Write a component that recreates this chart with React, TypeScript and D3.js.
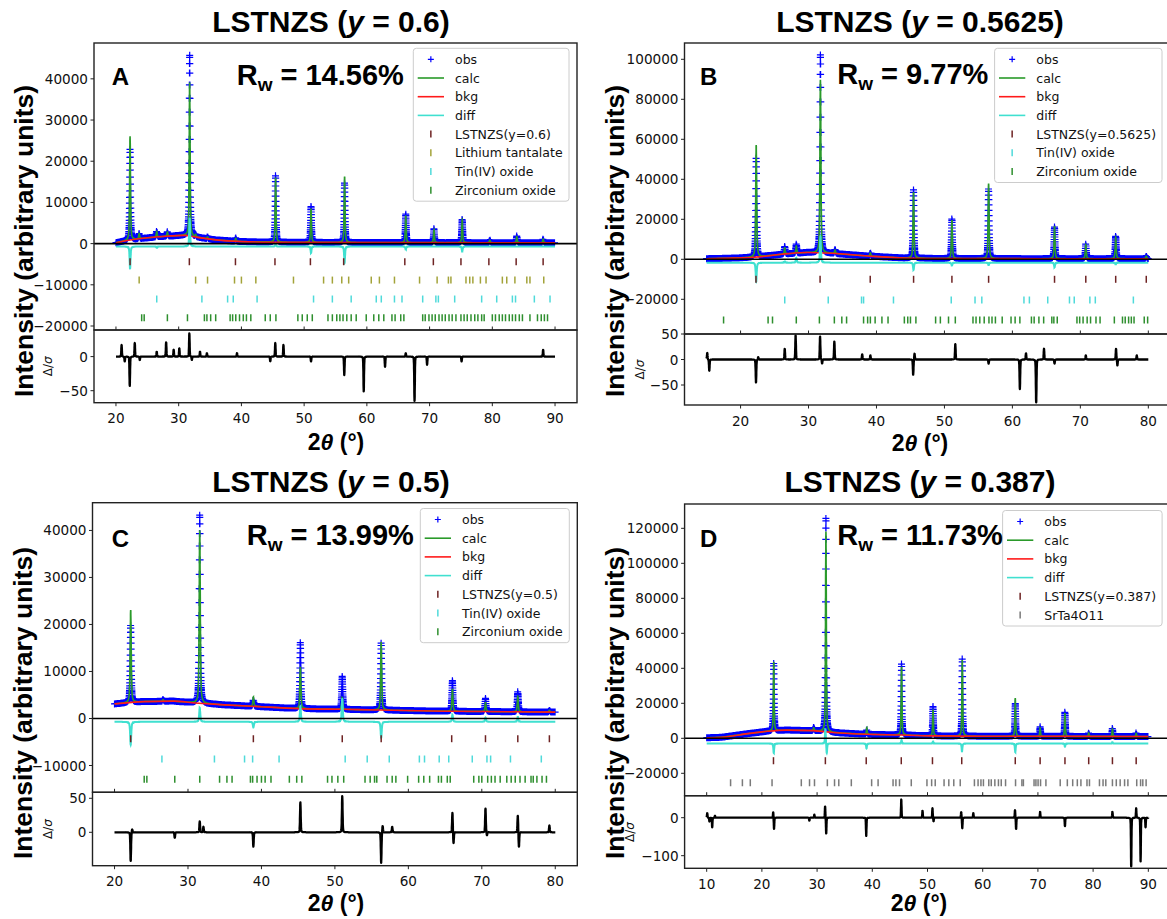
import React from 'react';
import * as d3 from 'd3';

type Pt = [number, number];
type Peak = [number, number, number];

// ======================= DATA =======================
// Panel A : LSTNZS (y = 0.6)
const rangeA: Pt = [20, 90];
const xTicksA = [20, 30, 40, 50, 60, 70, 80, 90];
const yTicksA = [40000, 30000, 20000, 10000, 0, -10000, -20000];
const rTicksA = [0, -50];
const bkgA: Pt[] = [[20, 200], [22, 800], [25, 1400], [28, 1800], [31, 2000], [33, 1500], [36, 900], [40, 500], [45, 350], [60, 250], [90, 200]];
// [2θ, obs height, calc height] above background
const peaksA: Peak[] = [[22.25, 22300, 25200], [23.7, 1300, 1300], [26.5, 1600, 1400], [28.2, 1100, 1000], [31.75, 43900, 37300], [32.7, 600, 500], [34.6, 500, 400], [39.1, 800, 700], [45.45, 16300, 15700], [51.1, 8800, 8200], [56.45, 14600, 16000], [66.2, 6900, 6600], [70.7, 3400, 3200], [75.2, 5900, 5600], [79.6, 700, 600], [83.9, 1700, 1500], [88.1, 1000, 900]];
const diffOffsetA = -700;
const diffA: Pt[] = [[22.25, -5500], [26.5, -300], [31.75, 7000], [45.45, 600], [51.1, -1600], [56.45, -4000], [66.2, -700], [75.2, -1200]];
const residA: Pt[] = [[20.9, 17], [21.4, -7], [22.2, -43], [23.0, 20], [23.8, -5], [26.5, 7], [28.0, 21], [29.2, 10], [30.1, 12], [31.7, 34], [32.1, -5], [33.4, 7], [34.5, 5], [39.3, 5], [44.6, -7], [45.4, 20], [46.7, 17], [51.1, -7], [56.4, -27], [59.5, -51], [62.9, -15], [66.2, 5], [67.6, -65], [69.6, -12], [75.1, -7], [88.1, 10]];
const phaseNamesA = ['LSTNZS(y=0.6)', 'Lithium tantalate', 'Tin(IV) oxide', 'Zirconium oxide'];
const phaseRowsA = [-4400, -8850, -13450, -18000];
const ticksA_LSTNZS = [22.25, 31.7, 39.05, 45.35, 51.0, 56.3, 66.05, 70.6, 75.0, 79.45, 83.8, 88.1];
const ticksA_LiTaO3 = [23.7, 32.7, 34.6, 38.9, 40.0, 42.3, 48.3, 53.1, 54.5, 56.0, 57.1, 60.7, 62.0, 64.4, 68.4, 71.2, 73.0, 73.4, 75.8, 76.4, 76.9, 78.1, 79.0, 81.6, 82.3, 83.6, 85.5, 86.0, 88.2];
const ticksA_SnO2 = [26.5, 33.7, 37.8, 38.7, 42.5, 51.5, 54.5, 57.5, 61.5, 62.3, 64.4, 65.6, 68.9, 71.0, 71.4, 74.0, 78.3, 80.7, 83.2, 83.7, 86.7, 89.2];
const ticksA_ZrO2 = [24.1, 24.5, 28.2, 31.4, 34.1, 34.5, 35.1, 35.9, 38.2, 38.6, 39.1, 39.7, 40.3, 40.8, 41.5, 43.8, 44.6, 45.5, 49.0, 49.7, 50.5, 51.3, 53.8, 54.5, 55.2, 55.7, 56.2, 56.8, 57.5, 58.3, 59.9, 61.1, 61.9, 62.7, 64.0, 64.5, 65.4, 65.9, 68.9, 69.3, 69.9, 70.4, 70.9, 71.5, 72.0, 72.5, 73.1, 73.6, 74.2, 75.0, 75.5, 76.0, 76.6, 77.2, 77.7, 78.3, 78.7, 80.0, 80.5, 81.1, 81.6, 82.1, 82.7, 83.2, 83.7, 84.3, 84.8, 86.0, 87.2, 87.8, 88.3, 88.8];

// Panel B : LSTNZS (y = 0.5625)
const rangeB: Pt = [15, 80];
const xTicksB = [20, 30, 40, 50, 60, 70, 80];
const yTicksB = [100000, 80000, 60000, 40000, 20000, 0, -20000];
const rTicksB = [50, 0, -50];
const bkgB: Pt[] = [[15, 300], [19, 600], [22, 1000], [26, 2500], [29.8, 3400], [33.4, 3000], [38.7, 1650], [44, 650], [50, 400], [65, 300], [80, 300]];
const peaksB: Peak[] = [[22.3, 50000, 56000], [26.5, 3800, 3200], [28.2, 4600, 3600], [31.75, 99000, 86500], [33.9, 2200, 1700], [39.1, 1800, 1700], [45.45, 34500, 33000], [51.1, 20000, 19200], [56.5, 35200, 37500], [66.2, 15800, 16300], [70.8, 7600, 7100], [75.2, 11700, 10700], [79.7, 1300, 1200]];
const diffOffsetB = -1700;
const diffB: Pt[] = [[22.3, -9500], [26.5, 600], [28.2, 2500], [31.75, 13000], [45.45, -3600], [51.1, -1400], [56.5, -1200], [66.2, -2300], [75.2, -800]];
const residB: Pt[] = [[15.1, 13], [15.4, -22], [22.27, -45], [22.6, 5], [26.5, 21], [28.1, 47], [31.7, 45], [32.0, -8], [33.8, 35], [37.9, 10], [39.1, 8], [45.4, -30], [45.6, 12], [51.6, 30], [56.5, -8], [61.1, -58], [62.0, 12], [63.5, -84], [64.65, 21], [66.2, -8], [70.8, 8], [75.25, 21], [75.45, -12], [78.3, 8]];
const phaseNamesB = ['LSTNZS(y=0.5625)', 'Tin(IV) oxide', 'Zirconium oxide'];
const phaseRowsB = [-10000, -20350, -30350];
const ticksB_LSTNZS = [22.27, 31.7, 39.08, 45.46, 51.1, 56.5, 66.2, 70.8, 75.2, 79.7];
const ticksB_SnO2 = [26.5, 32.9, 37.8, 38.1, 42.5, 51.0, 54.5, 55.5, 61.7, 62.5, 65.2, 68.4, 69.1, 71.4, 72.2, 77.8];
const ticksB_ZrO2 = [17.5, 24.05, 24.7, 28.2, 31.6, 33.8, 34.9, 35.6, 38.1, 38.7, 39.1, 39.8, 40.8, 41.7, 44.1, 44.6, 45.0, 45.8, 48.7, 49.4, 50.6, 51.6, 54.2, 54.65, 55.2, 55.85, 56.55, 57.0, 57.5, 58.5, 59.8, 60.4, 61.1, 62.8, 63.2, 63.9, 64.6, 65.8, 66.1, 66.6, 69.5, 69.9, 70.4, 71.0, 71.5, 72.3, 72.9, 75.0, 76.2, 76.6, 77.1, 77.5, 77.9, 79.4, 79.9];

// Panel C : LSTNZS (y = 0.5)
const rangeC: Pt = [20, 80];
const xTicksC = [20, 30, 40, 50, 60, 70, 80];
const yTicksC = [40000, 30000, 20000, 10000, 0, -10000];
const rTicksC = [50, 0];
const bkgC: Pt[] = [[20, 3100], [24, 3600], [28, 3700], [31, 3300], [35, 2900], [40, 2500], [45, 2100], [51, 1950], [56, 1800], [65, 1550], [80, 1350]];
const peaksC: Peak[] = [[22.2, 16600, 19700], [26.6, 400, 300], [31.6, 40000, 36800], [38.9, 1500, 2000], [45.3, 14200, 8900], [51.0, 7000, 2500], [56.3, 14400, 14500], [66.0, 6500, 4800], [70.5, 2800, 1900], [74.9, 4300, 3300], [79.2, 400, 350]];
const diffOffsetC = -700;
const diffC: Pt[] = [[22.2, -4900], [31.6, 3000], [38.9, -1200], [45.3, 3300], [51.0, 5000], [56.3, -3500], [66.0, 1500], [70.5, 900], [74.9, 1000]];
const residC: Pt[] = [[22.2, -42], [22.4, 5], [28.2, -8], [31.6, 16], [32.1, 8], [38.9, -21], [45.3, 44], [51.0, 53], [56.3, -45], [56.5, 10], [57.8, 8], [66.0, 29], [66.15, -17], [70.5, 35], [70.7, -5], [74.9, 25], [75.05, -22], [79.2, 10]];
const phaseNamesC = ['LSTNZS(y=0.5)', 'Tin(IV) oxide', 'Zirconium oxide'];
const phaseRowsC = [-4300, -8620, -12940];
const ticksC_LSTNZS = [22.2, 31.6, 38.9, 45.3, 51.0, 56.3, 65.9, 70.5, 74.9, 79.2];
const ticksC_SnO2 = [26.45, 33.6, 37.7, 38.8, 42.4, 51.4, 54.4, 57.4, 61.5, 62.2, 64.2, 65.5, 68.7, 70.7, 71.2, 73.9, 78.1];
const ticksC_ZrO2 = [24.04, 24.4, 28.2, 31.6, 34.3, 35.3, 36.0, 38.5, 38.8, 39.4, 40.0, 40.5, 41.3, 43.8, 44.8, 45.5, 49.0, 49.6, 50.4, 51.2, 54.1, 54.8, 55.4, 55.7, 57.1, 57.8, 58.3, 59.9, 61.4, 62.1, 62.9, 64.1, 64.5, 65.3, 65.7, 68.9, 69.6, 70.0, 70.8, 71.3, 71.8, 72.5, 73.4, 74.0, 74.55, 75.2, 75.9, 76.7, 77.0, 77.5, 78.2, 78.8];

// Panel D : LSTNZS (y = 0.387)
const rangeD: Pt = [10, 90];
const xTicksD = [10, 20, 30, 40, 50, 60, 70, 80, 90];
const yTicksD = [120000, 100000, 80000, 60000, 40000, 20000, 0, -20000];
const rTicksD = [0, -100];
const bkgD: Pt[] = [[10, 300], [12.7, 600], [17.8, 2800], [21, 4000], [24.5, 4700], [29.3, 4400], [32.9, 3300], [39, 2300], [45.3, 1900], [51, 1400], [60, 1200], [75, 1100], [90, 1000]];
const peaksD: Peak[] = [[22.15, 39000, 39500], [29.4, 2200, 1500], [31.6, 122000, 114500], [39.0, 2500, 3800], [45.3, 41000, 39000], [51.0, 16700, 15000], [56.3, 44500, 43500], [65.9, 18700, 21800], [70.4, 5500, 4800], [74.9, 14400, 13400], [79.2, 2200, 2000], [83.5, 4800, 4200], [87.8, 2200, 1800]];
const diffOffsetD = -3000;
const diffD: Pt[] = [[22.15, -5400], [31.5, 9000], [31.75, -6000], [38.95, -2800], [45.3, 2000], [51.0, 1200], [56.25, -4500], [65.9, -5000], [74.9, -1800], [83.5, 800]];
const residD: Pt[] = [[10.1, 12], [10.5, -10], [11.0, -25], [11.5, 5], [22.05, 15], [22.2, -30], [28.6, -8], [29.5, 8], [31.45, 30], [31.65, -42], [38.9, -48], [45.25, 48], [49.1, 18], [50.9, 25], [51.1, -10], [56.1, 15], [56.3, -28], [58.3, 12], [65.85, 20], [66.05, -30], [70.4, 15], [74.9, -22], [83.5, 15], [86.9, -128], [87.8, 25], [88.6, -115], [89.5, -25]];
const phaseNamesD = ['LSTNZS(y=0.387)', 'SrTa4O11'];
const phaseRowsD = [-12800, -25400];
const ticksD_LSTNZS = [22.1, 31.5, 38.9, 45.25, 50.9, 56.2, 65.9, 70.4, 74.9, 79.2, 83.5, 87.8];
const ticksD_SrTa4O11 = [14.33, 16.47, 17.9, 21.84, 27.14, 28.63, 29.53, 31.86, 33.16, 33.93, 36.2, 39.88, 41.05, 43.76, 44.28, 44.93, 47.06, 49.9, 50.75, 51.4, 53.0, 53.86, 54.76, 55.93, 58.5, 59.16, 59.68, 60.13, 61.1, 61.55, 62.2, 62.85, 63.36, 64.14, 65.95, 67.1, 67.37, 69.3, 69.64, 70.03, 70.48, 71.45, 74.04, 75.33, 76.3, 77.14, 77.79, 78.89, 79.34, 81.15, 81.8, 82.3, 83.5, 84.2, 84.9, 85.7, 86.3, 87.9, 88.6, 89.0, 89.6];

const yValues = ['0.6', '0.5625', '0.5', '0.387'];
const letters = ['A', 'B', 'C', 'D'];
const rwValues = ['14.56%', '9.77%', '13.99%', '11.73%'];

// ======================= STYLE / LAYOUT =======================
const SANS = "'DejaVu Sans', 'Noto Sans', sans-serif";
const BOLD = "'Liberation Sans', Arial, Helvetica, sans-serif";
const C_OBS = '#0000ff';
const C_CALC = '#2a9a2a';
const C_BKG = '#ff1a1a';
const C_DIFF = '#40e0d0';
const C_LST = '#6e2323';
const C_LI = '#a3a33a';
const C_SN = '#4fdada';
const C_ZR = '#2e8f2e';
const C_SR = '#7a7a7a';

interface Layout {
  left: number; right: number; top: number; mid: number; bottom: number;
  xDomain: Pt; yDomain: Pt; rDomain: Pt;
  legendLeft: number; legendTop: number; legendWidth: number;
  letterX: number; letterY: number; rwX: number; rwY: number;
  titleX: number; titleY: number; xlabelX: number; xlabelY: number;
  ylabelY: number; dsOffset: number;
}

interface PanelDef {
  id: string; range: Pt; xTicks: number[]; yTicks: number[]; rTicks: number[];
  bkg: Pt[]; peaks: Peak[]; diffOffset: number; diff: Pt[]; resid: Pt[];
  phases: { name: string; row: number; ticks: number[]; color: string }[];
  yValue: string; letter: string; rw: string; L: Layout;
}

const panels: PanelDef[] = [
  {
    id: 'A', range: rangeA, xTicks: xTicksA, yTicks: yTicksA, rTicks: rTicksA,
    bkg: bkgA, peaks: peaksA, diffOffset: diffOffsetA, diff: diffA, resid: residA,
    phases: [
      { name: phaseNamesA[0], row: phaseRowsA[0], ticks: ticksA_LSTNZS, color: C_LST },
      { name: phaseNamesA[1], row: phaseRowsA[1], ticks: ticksA_LiTaO3, color: C_LI },
      { name: phaseNamesA[2], row: phaseRowsA[2], ticks: ticksA_SnO2, color: C_SN },
      { name: phaseNamesA[3], row: phaseRowsA[3], ticks: ticksA_ZrO2, color: C_ZR },
    ],
    yValue: yValues[0], letter: letters[0], rw: rwValues[0],
    L: { left: 94, right: 577, top: 43, mid: 330, bottom: 402.7, xDomain: [16.5, 93.5], yDomain: [-20970, 48700], rDomain: [-67.6, 39],
      legendLeft: 413.3, legendTop: 48.3, legendWidth: 155.7, letterX: 111.7, letterY: 85, rwX: 236.7, rwY: 85,
      titleX: 331, titleY: 31.5, xlabelX: 336, xlabelY: 450, ylabelY: 241, dsOffset: 46 },
  },
  {
    id: 'B', range: rangeB, xTicks: xTicksB, yTicks: yTicksB, rTicks: rTicksB,
    bkg: bkgB, peaks: peaksB, diffOffset: diffOffsetB, diff: diffB, resid: residB,
    phases: [
      { name: phaseNamesB[0], row: phaseRowsB[0], ticks: ticksB_LSTNZS, color: C_LST },
      { name: phaseNamesB[1], row: phaseRowsB[1], ticks: ticksB_SnO2, color: C_SN },
      { name: phaseNamesB[2], row: phaseRowsB[2], ticks: ticksB_ZrO2, color: C_ZR },
    ],
    yValue: yValues[1], letter: letters[1], rw: rwValues[1],
    L: { left: 684.5, right: 1170.4, top: 43, mid: 334, bottom: 405, xDomain: [11.75, 83.25], yDomain: [-37350, 108150], rDomain: [-89.2, 50],
      legendLeft: 994.6, legendTop: 48.3, legendWidth: 167.4, letterX: 700, letterY: 85, rwX: 837.3, rwY: 84,
      titleX: 920, titleY: 31.5, xlabelX: 920, xlabelY: 451, ylabelY: 241, dsOffset: 44.5 },
  },
  {
    id: 'C', range: rangeC, xTicks: xTicksC, yTicks: yTicksC, rTicks: rTicksC,
    bkg: bkgC, peaks: peaksC, diffOffset: diffOffsetC, diff: diffC, resid: residC,
    phases: [
      { name: phaseNamesC[0], row: phaseRowsC[0], ticks: ticksC_LSTNZS, color: C_LST },
      { name: phaseNamesC[1], row: phaseRowsC[1], ticks: ticksC_SnO2, color: C_SN },
      { name: phaseNamesC[2], row: phaseRowsC[2], ticks: ticksC_ZrO2, color: C_ZR },
    ],
    yValue: yValues[2], letter: letters[2], rw: rwValues[2],
    L: { left: 92.5, right: 577.3, top: 502.7, mid: 792.3, bottom: 865.7, xDomain: [17, 83], yDomain: [-15700, 45900], rDomain: [-49.1, 58.8],
      legendLeft: 420.3, legendTop: 508.5, legendWidth: 149, letterX: 111.7, letterY: 547, rwX: 246.7, rwY: 545,
      titleX: 331, titleY: 491.5, xlabelX: 336, xlabelY: 911, ylabelY: 703, dsOffset: 44.5 },
  },
  {
    id: 'D', range: rangeD, xTicks: xTicksD, yTicks: yTicksD, rTicks: rTicksD,
    bkg: bkgD, peaks: peaksD, diffOffset: diffOffsetD, diff: diffD, resid: residD,
    phases: [
      { name: phaseNamesD[0], row: phaseRowsD[0], ticks: ticksD_LSTNZS, color: C_LST },
      { name: phaseNamesD[1], row: phaseRowsD[1], ticks: ticksD_SrTa4O11, color: C_SR },
    ],
    yValue: yValues[3], letter: letters[3], rw: rwValues[3],
    L: { left: 684.6, right: 1170.4, top: 504, mid: 795.7, bottom: 868.3, xDomain: [6, 94], yDomain: [-32800, 133900], rDomain: [-133.2, 57.9],
      legendLeft: 1002.6, legendTop: 510.5, legendWidth: 159.5, letterX: 700, letterY: 547, rwX: 837.3, rwY: 545,
      titleX: 920, titleY: 491.5, xlabelX: 919, xlabelY: 911, ylabelY: 703, dsOffset: 54.6 },
  },
];

// ======================= HELPERS =======================
function pv(dx: number, w: number, eta: number) {
  const t = (4 * dx * dx) / (w * w);
  return eta / (1 + t) + (1 - eta) * Math.exp(-Math.LN2 * t);
}
function sumPeaks(x: number, list: number[][], col: number, w: number, eta: number) {
  let s = 0;
  for (const p of list) {
    const dx = x - p[0];
    if (dx > 2.5 || dx < -2.5) continue;
    s += p[col] * pv(dx, w, eta);
  }
  return s;
}
const fmt = (v: number) => (v < 0 ? '\u2212' + Math.abs(v) : String(v));

function mkLine(xs: (v: number) => number, ys: (v: number) => number, curve?: d3.CurveFactory) {
  const ln: any = d3.line<Pt>().x(d => xs(d[0])).y(d => ys(d[1]));
  if (curve) ln.curve(curve);
  if (typeof ln.digits === 'function') ln.digits(1);
  return ln;
}

function Panel({ p }: { p: PanelDef }) {
  const L = p.L;
  const x = d3.scaleLinear().domain(L.xDomain).range([L.left, L.right]);
  const y = d3.scaleLinear().domain(L.yDomain).range([L.mid, L.top]);
  const r = d3.scaleLinear().domain(L.rDomain).range([L.bottom, L.mid]);
  const bk = d3.scaleLinear().domain(p.bkg.map(d => d[0])).range(p.bkg.map(d => d[1])).clamp(true);
  const W = 0.17, ETA = 0.55;
  const grid = d3.range(p.range[0], p.range[1] + 1e-9, 0.01);

  // obs markers ('+')
  const R = 3.5;
  let obsD = '';
  let lx = -1e9, ly = -1e9;
  for (const t of grid) {
    const px = x(t), py = y(bk(t) + sumPeaks(t, p.peaks, 1, W, ETA));
    if (Math.abs(px - lx) < 0.6 && Math.abs(py - ly) < 1.2) continue;
    lx = px; ly = py;
    obsD += `M${(px - R).toFixed(1)},${py.toFixed(1)}h${2 * R}M${px.toFixed(1)},${(py - R).toFixed(1)}v${2 * R}`;
  }
  const calcPts: Pt[] = grid.map(t => [t, bk(t) + sumPeaks(t, p.peaks, 2, W, ETA)]);
  const diffPts: Pt[] = grid.map(t => [t, p.diffOffset + sumPeaks(t, p.diff, 1, W, ETA)]);
  const resPts: Pt[] = grid.map(t => [t, sumPeaks(t, p.resid, 1, 0.11, 0.3)]);
  const bkgPts: Pt[] = p.bkg;

  const lineMain = mkLine(x, y);
  const lineBkg = mkLine(x, y, d3.curveMonotoneX);
  const lineRes = mkLine(x, r);

  const clipM = `clipM${p.id}`, clipR = `clipR${p.id}`;
  const legendRows: { kind: string; color: string; label: string }[] = [
    { kind: 'plus', color: C_OBS, label: 'obs' },
    { kind: 'line', color: C_CALC, label: 'calc' },
    { kind: 'line', color: C_BKG, label: 'bkg' },
    { kind: 'line', color: C_DIFF, label: 'diff' },
    ...p.phases.map(ph => ({ kind: 'tick', color: ph.color, label: ph.name })),
  ];
  const lgH = 22 + (legendRows.length - 1) * 18.7;
  const frame = '#222';

  return (
    <g>
      <defs>
        <clipPath id={clipM}><rect x={L.left} y={L.top} width={L.right - L.left} height={L.mid - L.top} /></clipPath>
        <clipPath id={clipR}><rect x={L.left} y={L.mid} width={L.right - L.left} height={L.bottom - L.mid} /></clipPath>
      </defs>
      {/* main axes */}
      <g clipPath={`url(#${clipM})`}>
        <path d={obsD} stroke={C_OBS} strokeWidth={1.2} fill="none" />
        <path d={lineMain(calcPts)} stroke={C_CALC} strokeWidth={1.6} fill="none" />
        <path d={lineBkg(bkgPts)} stroke={C_BKG} strokeWidth={1.6} fill="none" />
        <path d={lineMain(diffPts)} stroke={C_DIFF} strokeWidth={2} fill="none" />
        <line x1={L.left} x2={L.right} y1={y(0)} y2={y(0)} stroke="#000" strokeWidth={1.6} />
        {p.phases.map((ph, i) => (
          <g key={i} stroke={ph.color} strokeWidth={1.5}>
            {ph.ticks.map((t, j) => (
              <line key={j} x1={x(t)} x2={x(t)} y1={y(ph.row) - 3.5} y2={y(ph.row) + 3.5} />
            ))}
          </g>
        ))}
      </g>
      <rect x={L.left} y={L.top} width={L.right - L.left} height={L.mid - L.top} fill="none" stroke={frame} strokeWidth={1.4} />
      {/* y ticks main */}
      {p.yTicks.map((v, i) => (
        <g key={i}>
          <line x1={L.left - 3.5} x2={L.left} y1={y(v)} y2={y(v)} stroke={frame} strokeWidth={1} />
          <text x={L.left - 6} y={y(v)} textAnchor="end" dominantBaseline="central" fontFamily={SANS} fontSize={13.6} fill="#111">{fmt(v)}</text>
        </g>
      ))}
      {/* inner x ticks on main bottom */}
      {p.xTicks.map((v, i) => (
        <line key={i} x1={x(v)} x2={x(v)} y1={L.mid - 3.5} y2={L.mid} stroke={frame} strokeWidth={1} />
      ))}
      {/* residual axes */}
      <g clipPath={`url(#${clipR})`}>
        <path d={lineRes(resPts)} stroke="#000" strokeWidth={2.3} fill="none" strokeLinejoin="round" />
      </g>
      <rect x={L.left} y={L.mid} width={L.right - L.left} height={L.bottom - L.mid} fill="none" stroke={frame} strokeWidth={1.4} />
      {p.rTicks.map((v, i) => (
        <g key={i}>
          <line x1={L.left - 3.5} x2={L.left} y1={r(v)} y2={r(v)} stroke={frame} strokeWidth={1} />
          <text x={L.left - 6} y={r(v)} textAnchor="end" dominantBaseline="central" fontFamily={SANS} fontSize={13.6} fill="#111">{fmt(v)}</text>
        </g>
      ))}
      {p.xTicks.map((v, i) => (
        <g key={i}>
          <line x1={x(v)} x2={x(v)} y1={L.bottom} y2={L.bottom + 3.5} stroke={frame} strokeWidth={1} />
          <text x={x(v)} y={L.bottom + 15.5} textAnchor="middle" dominantBaseline="central" fontFamily={SANS} fontSize={13.6} fill="#111">{v}</text>
        </g>
      ))}
      {/* legend */}
      <rect x={L.legendLeft} y={L.legendTop} width={L.legendWidth} height={lgH} rx={3} fill="#fff" fillOpacity={0.8} stroke="#cccccc" strokeWidth={1} />
      {legendRows.map((row, i) => {
        const cy = L.legendTop + 11 + i * 18.7;
        const hx0 = L.legendLeft + 4.4, hx1 = L.legendLeft + 30.7, hc = (hx0 + hx1) / 2;
        return (
          <g key={i}>
            {row.kind === 'line' && <line x1={hx0} x2={hx1} y1={cy} y2={cy} stroke={row.color} strokeWidth={1.6} />}
            {row.kind === 'plus' && <path d={`M${hc - 3},${cy}h6M${hc},${cy - 3}v6`} stroke={row.color} strokeWidth={1.2} />}
            {row.kind === 'tick' && <line x1={hc} x2={hc} y1={cy - 3.5} y2={cy + 3.5} stroke={row.color} strokeWidth={1.5} />}
            <text x={L.legendLeft + 41.7} y={cy} dominantBaseline="central" fontFamily={SANS} fontSize={12.5} fill="#111">{row.label}</text>
          </g>
        );
      })}
      {/* annotations */}
      <text x={L.letterX} y={L.letterY} fontFamily={BOLD} fontWeight="bold" fontSize={24} fill="#000">{p.letter}</text>
      <text x={L.rwX} y={L.rwY} fontFamily={BOLD} fontWeight="bold" fontSize={29} fill="#000">
        R<tspan fontSize={19} dy={6}>w</tspan><tspan dy={-6}> = {p.rw}</tspan>
      </text>
      <text x={L.titleX} y={L.titleY} textAnchor="middle" fontFamily={BOLD} fontWeight="bold" fontSize={30} fill="#000">
        LSTNZS (<tspan fontStyle="italic">y</tspan> = {p.yValue})
      </text>
      <text x={L.xlabelX} y={L.xlabelY} textAnchor="middle" fontFamily={BOLD} fontWeight="bold" fontSize={23} fill="#000">
        2<tspan fontStyle="italic">θ</tspan> (°)
      </text>
      <text transform={`translate(${L.left - 70},${L.ylabelY}) rotate(-90)`} textAnchor="middle" dominantBaseline="central" fontFamily={BOLD} fontWeight="bold" fontSize={26.5} fill="#000">
        Intensity (arbitrary units)
      </text>
      <text transform={`translate(${L.left - L.dsOffset},${(L.mid + L.bottom) / 2}) rotate(-90)`} textAnchor="middle" dominantBaseline="central" fontFamily={SANS} fontSize={12} fill="#111">
        Δ/<tspan fontStyle="italic">σ</tspan>
      </text>
    </g>
  );
}

export default function App() {
  return (
    <svg width={1167} height={919} viewBox="0 0 1167 919" style={{ position: 'absolute', left: 0, top: 0, background: '#fff' }}>
      <rect x={0} y={0} width={1167} height={919} fill="#fff" />
      {panels.map(p => <Panel key={p.id} p={p} />)}
    </svg>
  );
}
